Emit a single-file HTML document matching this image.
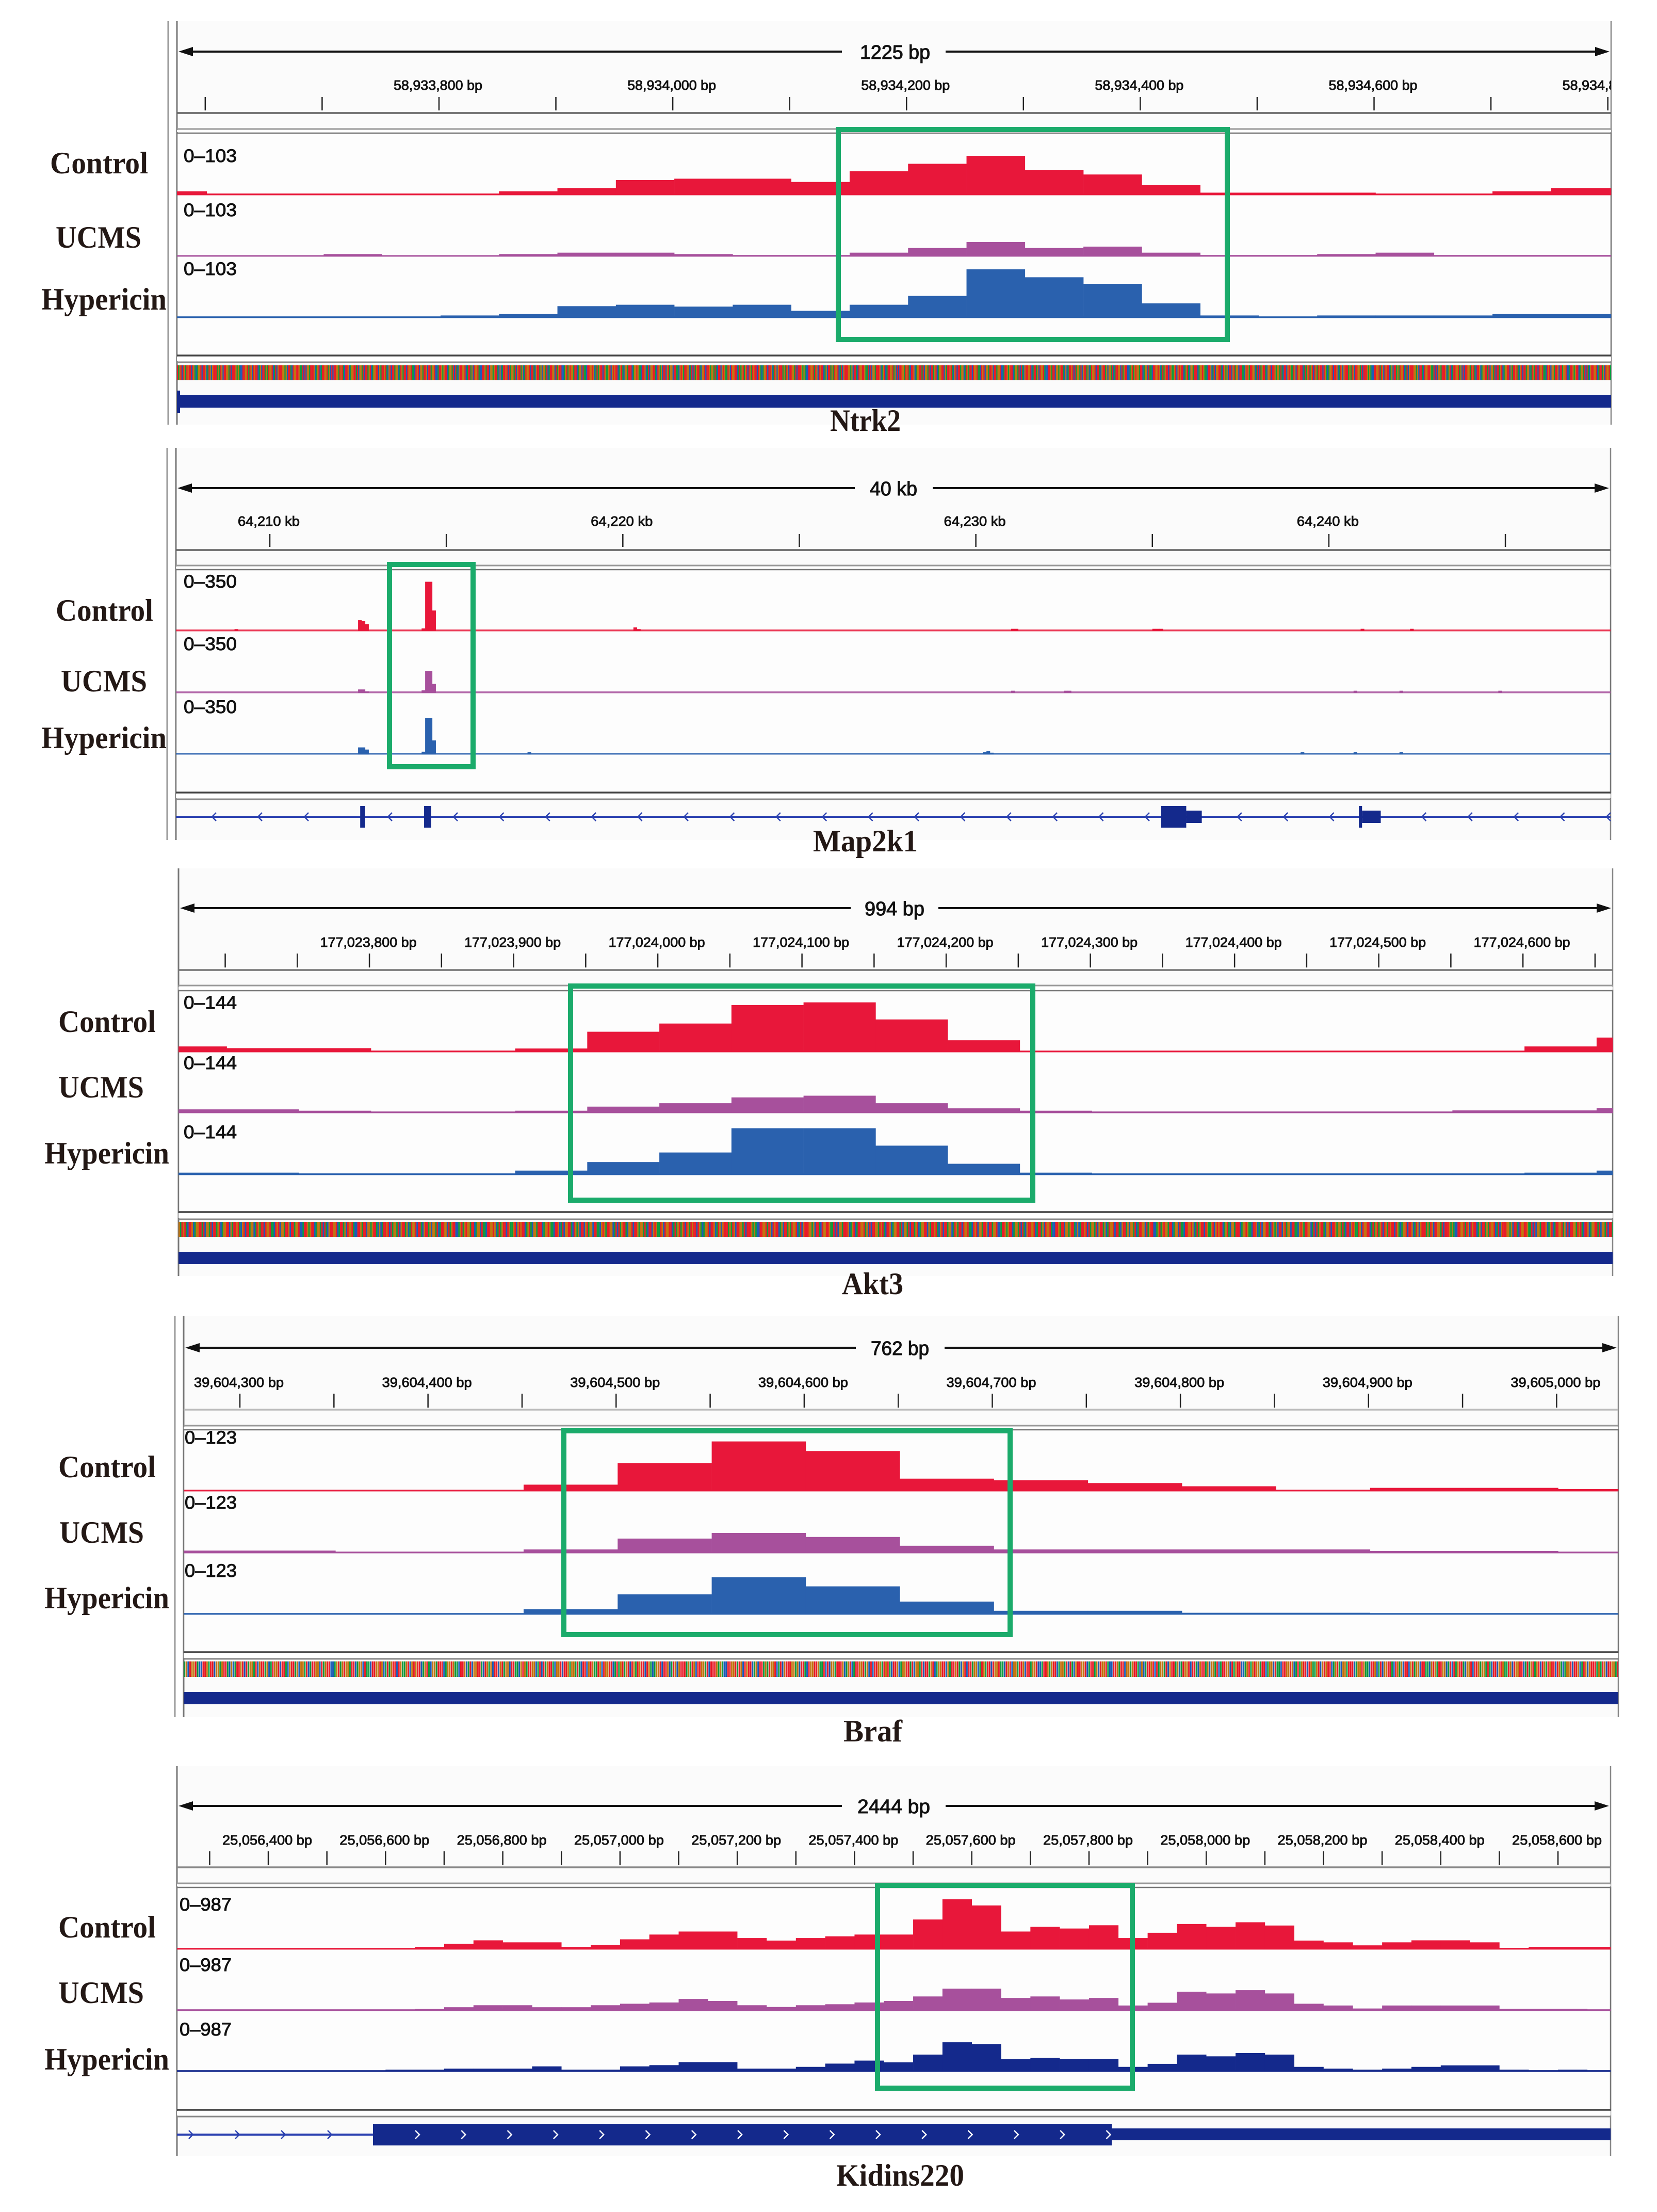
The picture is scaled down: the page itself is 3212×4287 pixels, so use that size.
<!DOCTYPE html>
<html lang="en">
<head>
<meta charset="utf-8">
<title>IGV coverage tracks</title>
<style>
html,body{margin:0;padding:0;background:#fff;width:3212px;height:4287px;overflow:hidden}
svg{display:block}
</style>
</head>
<body>
<svg id="figure" xmlns="http://www.w3.org/2000/svg" width="3212" height="4287" viewBox="0 0 3212 4287"></svg>
<script>
// ---------- Ntrk2 data (bp, 50 bp bins) ----------
const ntrk2BinStart = 58933550;
const ntrk2Control = [7,2,2,2,2,2,7,14,31,34,34,27,50,66,83,53,43,20,4,4,4,2,2,7,14,14];
const ntrk2Ucms = [0,0,0,4,0,0,4,7,7,4,1,1,7,17,30,17,20,7,1,1,4,7,1,1,1,1];
const ntrk2Hypericin = [1,1,1,1,1,4,7,24,27,23,27,14,27,46,103,86,72,30,4,1,4,4,4,7,7,7];
const ntrk2TickStart = 58933600;
const ntrk2TickLabels = ["58,933,800 bp","58,934,000 bp","58,934,200 bp","58,934,400 bp","58,934,600 bp","58,934,800 bp"];

// ---------- Map2k1 data (kb, sparse 0.1 kb bins) ----------
const map2k1ControlBins = [64209.0,64212.5,64212.6,64212.7,64214.3,64214.4,64214.5,64214.6,64220.3,64220.4,64231.0,64231.1,64235.0,64235.1,64235.2,64240.9,64242.3];
const map2k1ControlValues = [10,72,65,45,15,341,341,140,22,10,12,12,12,12,12,12,12];
const map2k1UcmsBins = [64212.5,64212.6,64212.7,64214.3,64214.4,64214.5,64214.6,64231.0,64232.5,64232.6,64240.7,64242.0,64244.8];
const map2k1UcmsValues = [21,21,8,15,151,151,60,12,12,12,12,12,12];
const map2k1HypericinBins = [64212.5,64212.6,64212.7,64214.3,64214.4,64214.5,64214.6,64217.3,64230.2,64230.3,64230.4,64239.2,64240.7,64242.0];
const map2k1HypericinValues = [45,45,30,15,249,249,94,12,12,20,8,12,12,12];
const map2k1TickStart = 64210;
const map2k1TickLabels = ["64,210 kb","64,220 kb","64,230 kb","64,240 kb"];
const map2k1ExonStarts = [64212.56,64214.37,64235.25,64235.96,64240.85,64240.94];
const map2k1ExonEnds = [64212.70,64214.57,64235.96,64236.40,64240.94,64241.47];
const map2k1ExonTall = [1,1,1,0,1,0];

// ---------- Akt3 data ----------
const akt3BinStart = 177023650;
const akt3Control = [15,10,10,3,3,9,58,82,136,144,94,33,2,2,2,2,2,2,2,15,41];
const akt3Ucms = [9,9,5,2,2,5,17,27,44,49,27,12,5,2,2,2,2,2,6,6,13];
const akt3Hypericin = [5,5,2,2,2,11,36,64,135,135,84,31,5,2,2,2,2,2,2,5,11];
const akt3TickStart = 177023700;
const akt3TickLabels = ["177,023,800 bp","177,023,900 bp","177,024,000 bp","177,024,100 bp","177,024,200 bp","177,024,300 bp","177,024,400 bp","177,024,500 bp","177,024,600 bp"];

// ---------- Braf data ----------
const brafBinStart = 39604250;
const brafControl = [1,1,1,1,15,69,123,99,30,26,19,11,2,7,7,4];
const brafUcms = [5,5,2,2,8,35,49,39,17,8,8,8,8,4,4,2];
const brafHypericin = [1,1,1,1,12,49,92,69,31,8,8,3,3,1,1,1];
const brafTickStart = 39604300;
const brafTickLabels = ["39,604,300 bp","39,604,400 bp","39,604,500 bp","39,604,600 bp","39,604,700 bp","39,604,800 bp","39,604,900 bp","39,605,000 bp"];

// ---------- Kidins220 data ----------
const kidinsBinStart = 25056200;
const kidinsControl = [10,10,10,10,10,10,10,10,10,40,100,170,130,130,40,75,190,285,345,345,215,165,215,250,285,285,585,987,865,345,440,405,470,215,320,495,440,530,465,165,130,70,130,170,170,130,20,40,40,40];
const kidinsUcms = [10,10,10,10,10,10,10,10,10,25,60,100,100,60,60,100,130,155,225,185,100,65,100,120,155,185,275,430,430,245,275,215,245,95,150,370,335,400,335,130,95,35,95,95,95,95,30,30,30,12];
const kidinsHypericin = [5,5,5,5,5,5,5,5,30,30,50,50,50,95,30,30,95,120,180,180,50,50,85,150,210,175,330,575,540,240,265,245,245,85,145,330,295,360,330,85,50,30,50,85,115,115,30,12,30,12];
const kidinsTickStart = 25056300;
const kidinsTickLabels = ["25,056,400 bp","25,056,600 bp","25,056,800 bp","25,057,000 bp","25,057,200 bp","25,057,400 bp","25,057,600 bp","25,057,800 bp","25,058,000 bp","25,058,200 bp","25,058,400 bp","25,058,600 bp"];

// ---------- Reference sequence strip (bases are cycled) ----------
const referenceBases = "TAGTCTGATGTTCTGACAGGTCTTGCATGCGTTTAGATGCTTGGATCTTTGAGACCTTGGTATGCTGTTCAGCTTAGATGGTCATCGTTTGGAGCTTACTGGTTGAATCTCGGATTTGCAGTCATTGGTAGCTCTTGGATGTACTTGCAGGTTATCGGATCTTAGTCAGGTTCGATTGTACGTCTTAGGCATGATTCTGGTAACTGTCGGATTGCTTAGGTCCATTGAGTTCAGGATCTACGTTGGTCATTAGCTGGTACCTTGATTCGGAGTTACGCATTGTCTAGGATCGTTAGCATGGTCTTACGTTAGCGGATCATTGGCTAGTTCCAGTAGTGGATTCAGGCTAACTTGGTGCATAGTTCTGAAGTCGTGTTCAGTACGGATTTCAGGTGAACTTGCATCGGTTACTGAGCTTCGTAGGCTTAACGTGATTGGCATCTAGTTACGGTCTTGAGGATACTTCGTGAATGCTGGTTCATAG";
const baseColors = {A:"#109a3e",C:"#1d5cb6",G:"#c27410",T:"#e81c28"};

const NS = "http://www.w3.org/2000/svg";
const figure = document.getElementById("figure");
function make(parent, tag, attrs, content){
  const node = document.createElementNS(NS, tag);
  for (const key in attrs) node.setAttribute(key, attrs[key]);
  if (content !== undefined) node.textContent = content;
  parent.appendChild(node);
  return node;
}
const RED = "#e8173a", PURPLE = "#a7509c", BLUE = "#2a61ae", NAVY = "#14298c", GREEN = "#1bab6b";

const panels = [
 {id:"ntrk2", gene:"Ntrk2", x0:343,x1:3123,outerX:326,top:41,arrowY:100,gapL:1632,gapR:1833,spanText:"1225 bp",spanX:1667,spanW:136,
  tickTop:188,tickBot:214,tickStep:100,tickStart:ntrk2TickStart,tickLabels:ntrk2TickLabels,labelW:172,labelGap:14,rulerY:219,rulerColor:"#666",boxBot:250,binShift:3,seqOffset:0,
  dataTop:258,dataBot:689,geneTop:702,bottom:823,domain:[58933575.8,58934802.8],bases:true,seqTop:708,seqBot:737,
  maxValue:103,rangeText:"0–103",rangePx:93,rangeX:356,rangeW:103,rangeY:[314,419,533],baselines:[377,496,615],
  series:[ntrk2Control,ntrk2Ucms,ntrk2Hypericin],binStart:ntrk2BinStart,binW:50,colors:[RED,PURPLE,BLUE],
  rows:[[97,336,190],[108,480,166],[80,600,243]],name:[1609,835,137],box:[1620,246,2384,663]},
 {id:"map2k1", gene:"Map2k1", x0:341,x1:3122,outerX:324,top:868,arrowY:946,gapL:1657,gapR:1808,spanText:"40 kb",spanX:1686,spanW:92,
  tickTop:1035,tickBot:1060,tickStep:5,tickStart:map2k1TickStart,tickLabels:map2k1TickLabels,labelW:120,labelGap:16,rulerY:1066,rulerColor:"#666",boxBot:1096,binShift:0,seqOffset:0,
  dataTop:1104,dataBot:1536,geneTop:1549,bottom:1628,domain:[64207.34,64247.98],bases:false,
  maxValue:350,rangeText:"0–350",rangePx:97,rangeX:356,rangeW:103,rangeY:[1139,1260,1382],baselines:[1222,1342,1461],
  sparse:[[map2k1ControlBins,map2k1ControlValues],[map2k1UcmsBins,map2k1UcmsValues],[map2k1HypericinBins,map2k1HypericinValues]],binW:0.1,colors:[RED,PURPLE,BLUE],
  rows:[[108,1203,189],[118,1340,167],[80,1450,243]],name:[1576,1650,203],box:[750,1089,922,1491]},
 {id:"akt3", gene:"Akt3", x0:346,x1:3126,outerX:null,top:1683,arrowY:1760,gapL:1649,gapR:1819,spanText:"994 bp",spanX:1676,spanW:116,
  tickTop:1848,tickBot:1875,tickStep:50,tickStart:akt3TickStart,tickLabels:akt3TickLabels,labelW:187,labelGap:13,rulerY:1880,rulerColor:"#777",boxBot:1910,binShift:3,seqOffset:137,
  dataTop:1920,dataBot:2349,geneTop:2363,bottom:2473,domain:[177023667.6,177024662.2],bases:true,seqTop:2368,seqBot:2397,
  maxValue:144,rangeText:"0–144",rangePx:95.4,rangeX:356,rangeW:103,rangeY:[1955,2072,2206],baselines:[2038,2156,2276],
  series:[akt3Control,akt3Ucms,akt3Hypericin],binStart:akt3BinStart,binW:50,colors:[RED,PURPLE,BLUE],
  rows:[[113,2000,189],[113,2127,166],[86,2255,242]],name:[1632,2508,119],box:[1101,1906,2007,2331]},
 {id:"braf", gene:"Braf", x0:356,x1:3137,outerX:339,top:2550,arrowY:2612,gapL:1659,gapR:1831,spanText:"762 bp",spanX:1688,spanW:113,
  tickTop:2701,tickBot:2728,tickStep:50,tickStart:brafTickStart,tickLabels:brafTickLabels,labelW:174,labelGap:13,rulerY:2732,rulerColor:"#bbb",boxBot:2763,binShift:3,seqOffset:251,
  dataTop:2771,dataBot:3202,geneTop:3215,bottom:3328,domain:[39604270.1,39605032.8],bases:true,seqTop:3220,seqBot:3250,
  maxValue:123,rangeText:"0–123",rangePx:95.4,rangeX:358,rangeW:101,rangeY:[2798,2924,3056],baselines:[2889,3009,3128],
  series:[brafControl,brafUcms,brafHypericin],binStart:brafBinStart,binW:50,colors:[RED,PURPLE,BLUE],
  rows:[[113,2863,189],[115,2990,164],[86,3117,242]],name:[1635,3375,114],box:[1088,2768,1963,3173]},
 {id:"kidins220", gene:"Kidins220", x0:343,x1:3122,outerX:null,top:3423,arrowY:3500,gapL:1632,gapR:1833,spanText:"2444 bp",spanX:1662,spanW:141,
  tickTop:3588,tickBot:3615,tickStep:100,tickStart:kidinsTickStart,tickLabels:kidinsTickLabels,labelW:174,labelGap:13,rulerY:3619,rulerColor:"#888",boxBot:3650,binShift:0,seqOffset:0,
  dataTop:3658,dataBot:4089,geneTop:4102,bottom:4178,domain:[25056244.2,25058689.7],bases:false,
  maxValue:987,rangeText:"0–987",rangePx:96,rangeX:348,rangeW:101,rangeY:[3703,3820,3945],baselines:[3777,3896,4014],
  series:[kidinsControl,kidinsUcms,kidinsHypericin],binStart:kidinsBinStart,binW:50,colors:[RED,PURPLE,NAVY],
  rows:[[113,3755,189],[113,3882,166],[86,4011,242]],name:[1621,4236,248],box:[1696,3649,2200,4052]}
];
const sampleNames = ["Control","UCMS","Hypericin"];

function drawPanel(p){
  const g = make(figure,"g",{});
  
  
  const scale = (p.x1-p.x0)/(p.domain[1]-p.domain[0]);
  const xAxis = v => p.x0 + (v-p.domain[0])*scale;
  const yAxis = v => v/p.maxValue*p.rangePx;

  // background and frame
  const bg = make(g,"rect",{x:p.x0,y:p.top,width:p.x1-p.x0,height:p.bottom-p.top,fill:"#fbfbfb"});
  
  
  const leftLine = make(g,"line",{x1:p.x0,x2:p.x0,y1:p.top,y2:p.bottom,stroke:"#777","stroke-width":3});
  
  
  const rightLine = make(g,"line",{x1:p.x1,x2:p.x1,y1:p.top,y2:p.bottom,stroke:"#888","stroke-width":2.5});
  
  
  if (p.outerX !== null){
    const outer = make(g,"line",{x1:p.outerX,x2:p.outerX,y1:p.top,y2:p.bottom,stroke:"#999","stroke-width":3});
    
    
  }

  // span arrow
  const spanL = make(g,"line",{x1:p.x0+20,x2:p.gapL,y1:p.arrowY,y2:p.arrowY,stroke:"#111","stroke-width":4});
  
  
  const spanR = make(g,"line",{x1:p.gapR,x2:p.x1-20,y1:p.arrowY,y2:p.arrowY,stroke:"#111","stroke-width":4});
  
  
  const headL = make(g,"polygon",{points:(p.x0+3)+","+p.arrowY+" "+(p.x0+31)+","+(p.arrowY-9)+" "+(p.x0+31)+","+(p.arrowY+9),fill:"#111"});
  
  
  const headR = make(g,"polygon",{points:(p.x1-3)+","+p.arrowY+" "+(p.x1-31)+","+(p.arrowY-9)+" "+(p.x1-31)+","+(p.arrowY+9),fill:"#111"});
  
  
  const span = make(g,"text",{x:p.spanX,y:p.arrowY+14,"font-family":"'Liberation Sans',sans-serif","font-size":38,fill:"#111",stroke:"#111","stroke-width":1.1,textLength:p.spanW,lengthAdjust:"spacingAndGlyphs"},p.spanText);
  
  

  // ruler ticks
  for (let t = p.tickStart; xAxis(t) <= p.x1; t += p.tickStep){
    const tick = make(g,"line",{x1:xAxis(t),x2:xAxis(t),y1:p.tickTop,y2:p.tickBot,stroke:"#222","stroke-width":2.5});
    
    
  }
  const clipId = "clip-"+p.id;
  const defs = make(g,"defs",{});
  const clip = make(defs,"clipPath",{id:clipId});
  make(clip,"rect",{x:p.x0,y:p.top,width:p.x1-p.x0,height:p.bottom-p.top});
  p.tickLabels.forEach(label => {
    const value = Number(label.replace(/[^0-9]/g,""));
    const tl = make(g,"text",{x:xAxis(value)-p.labelW/2-2,y:p.tickTop-p.labelGap,"font-family":"'Liberation Sans',sans-serif","font-size":26,fill:"#111",stroke:"#111","stroke-width":0.9,textLength:p.labelW,lengthAdjust:"spacingAndGlyphs","clip-path":"url(#"+clipId+")"},label);
    
    
  });
  const ruler = make(g,"line",{x1:p.x0,x2:p.x1,y1:p.rulerY,y2:p.rulerY,stroke:p.rulerColor,"stroke-width":3.5});
  
  
  const rulerBottom = make(g,"line",{x1:p.x0,x2:p.x1,y1:p.boxBot,y2:p.boxBot,stroke:"#999","stroke-width":3});
  
  
  const bgMask = make(g,"rect",{x:p.x0,y:p.boxBot+2,width:p.x1-p.x0,height:p.dataTop-p.boxBot-4,fill:"#ffffff"});
  
  

  // data frame
  const dataFrame = make(g,"rect",{x:p.x0,y:p.dataTop,width:p.x1-p.x0,height:p.dataBot-p.dataTop,fill:"#fdfdfd",stroke:"#777","stroke-width":2.5});
  
  
  const dataBottom = make(g,"line",{x1:p.x0,x2:p.x1,y1:p.dataBot,y2:p.dataBot,stroke:"#444","stroke-width":3.5});
  
  

  // coverage tracks
  sampleNames.forEach((sample, s) => {
    const base = p.baselines[s], color = p.colors[s];
    const line = make(g,"rect",{x:p.x0,y:base-2,width:p.x1-p.x0,height:3.5,fill:color,opacity:0.85});
    
    
    const starts = p.sparse ? p.sparse[s][0] : p.series[s].map((v,i) => p.binStart + i*p.binW);
    const values = p.sparse ? p.sparse[s][1] : p.series[s];
    values.forEach((v, i) => {
      const left = Math.max(p.x0, xAxis(starts[i]) + p.binShift);
      const right = Math.min(p.x1, xAxis(starts[i] + p.binW) + p.binShift);
      if (right <= left) return;
      const h = yAxis(v);
      const bar = make(g,"rect",{x:left,y:base-h,width:right-left+0.3,height:h+1,fill:color});
      
      
    });
    const range = make(g,"text",{x:p.rangeX,y:p.rangeY[s],"font-family":"'Liberation Sans',sans-serif","font-size":35,fill:"#111",stroke:"#111","stroke-width":1,textLength:p.rangeW,lengthAdjust:"spacingAndGlyphs"},p.rangeText);
    
    
    const row = make(g,"text",{x:p.rows[s][0],y:p.rows[s][1],"font-family":"'Liberation Serif',serif","font-weight":"bold","font-size":60,fill:"#231815",textLength:p.rows[s][2],lengthAdjust:"spacingAndGlyphs"},sample);
    
    
  });

  // gene area frame
  const geneTopLine = make(g,"line",{x1:p.x0,x2:p.x1,y1:p.geneTop,y2:p.geneTop,stroke:"#888","stroke-width":3});
  
  
  const gapMask = make(g,"rect",{x:p.x0,y:p.dataBot+2,width:p.x1-p.x0,height:p.geneTop-p.dataBot-4,fill:"#ffffff"});
  
  

  // sequence strip
  if (p.bases){
    const count = Math.ceil((p.x1-p.x0)/scale);
    const bp = scale;
    const gap = bp > 3.2 ? 0.8 : 0;
    for (let i = 0; i < count; i++){
      const letter = referenceBases[(i + p.seqOffset) % referenceBases.length];
      const sx = p.x0 + i*bp;
      const stripe = make(g,"rect",{x:sx,y:p.seqTop,width:Math.min(bp-gap+0.2,p.x1-sx),height:p.seqBot-p.seqTop,fill:baseColors[letter]});
      
      
    }
  }

  drawGene(g, p, xAxis);

  // gene name
  const gene = make(g,"text",{x:p.name[0],y:p.name[1],"font-family":"'Liberation Serif',serif","font-weight":"bold","font-size":60,fill:"#231815",textLength:p.name[2],lengthAdjust:"spacingAndGlyphs"},p.gene);
  
  

  // highlight box
  const b = p.box;
  const box = make(g,"rect",{x:b[0]+5,y:b[1]+5,width:b[2]-b[0]-10,height:b[3]-b[1]-10,fill:"none",stroke:GREEN,"stroke-width":10});
  
  
}

function chevron(parent, x, y, dir, color){
  const c = make(parent,"polyline",{points:(x-dir*4)+","+(y-8)+" "+(x+dir*4)+","+y+" "+(x-dir*4)+","+(y+8),fill:"none",stroke:color,"stroke-width":2.5});
  
  
}

function drawGene(g, p, xAxis){
  if (p.id === "map2k1"){
    const yc = 1583;
    const line = make(g,"rect",{x:p.x0,y:yc-2,width:p.x1-p.x0,height:4,fill:"#2a40b0"});
    
    
    map2k1ExonStarts.forEach((s,i) => {
      const half = map2k1ExonTall[i] ? 21 : 12;
      const exon = make(g,"rect",{x:xAxis(s),y:yc-half,width:xAxis(map2k1ExonEnds[i])-xAxis(s),height:half*2,fill:NAVY});
      
      
    });
    [415,504,594,756].forEach(x => chevron(g,x,yc,-1,"#2a40b0"));
    for (let x = 883; x < p.x1; x += 89.4){
      if ((x > 2235 && x < 2335) || (x > 2622 && x < 2680)) continue;
      chevron(g,x,yc,-1,"#2a40b0");
    }
  } else if (p.id === "kidins220"){
    const thickStart = xAxis(25056578.6);
    const line = make(g,"rect",{x:p.x0,y:4135,width:thickStart-p.x0,height:4,fill:"#2a40b0"});
    
    
    const thick = make(g,"rect",{x:thickStart,y:4116,width:2155-thickStart,height:42,fill:NAVY});
    
    
    const utr = make(g,"rect",{x:2155,y:4125,width:p.x1-2155,height:23,fill:NAVY});
    
    
    [370,460,549,639].forEach(x => chevron(g,x,4137,1,"#2a40b0"));
    for (let x = 809; x < 2152; x += 89.3) chevron(g,x,4137,1,"#ffffff");
  } else {
    const top = p.seqBot + 29;
    const bar = make(g,"rect",{x:p.x0,y:top,width:p.x1-p.x0,height:24,fill:NAVY});
    
    
    if (p.id === "ntrk2"){
      const end = make(g,"rect",{x:p.x0,y:757,width:6,height:43,fill:NAVY});
      
      
    }
  }
}

panels.forEach(drawPanel);
</script>
</body>
</html>
